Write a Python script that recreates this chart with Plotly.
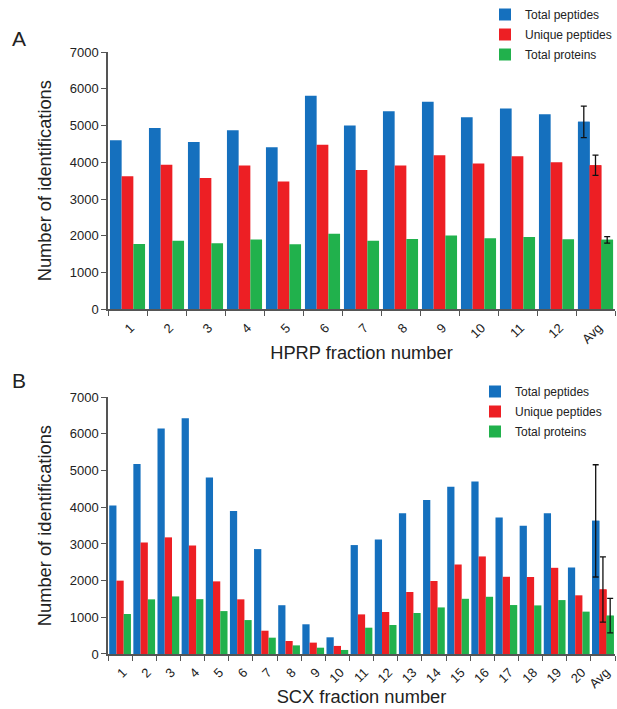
import plotly.graph_objects as go

# HPRP fractions (panel A)
hprp_fractions = [str(i) for i in range(1, 13)] + ["Avg"]
hprp_total_peptides = [4600, 4930, 4550, 4870, 4410, 5810, 5000, 5390, 5645, 5225, 5465, 5310, 5100]
hprp_unique_peptides = [3620, 3935, 3570, 3915, 3480, 4480, 3790, 3915, 4190, 3965, 4165, 4000, 3920]
hprp_total_proteins = [1780, 1865, 1800, 1900, 1770, 2055, 1865, 1915, 2010, 1935, 1970, 1910, 1890]
hprp_avg_sd = [430, 275, 90]  # total peptides, unique peptides, total proteins

# SCX fractions (panel B)
scx_fractions = [str(i) for i in range(1, 21)] + ["Avg"]
scx_total_peptides = [4050, 5180, 6150, 6430, 4810, 3900, 2860, 1330, 810, 455,
                      2970, 3120, 3840, 4200, 4560, 4700, 3720, 3500, 3840, 2360, 3630]
scx_unique_peptides = [2000, 3040, 3180, 2960, 1980, 1490, 635, 355, 310, 220,
                       1080, 1145, 1690, 1990, 2440, 2660, 2105, 2100, 2350, 1600, 1760]
scx_total_proteins = [1090, 1490, 1570, 1495, 1170, 925, 445, 235, 172, 110,
                      717, 790, 1117, 1270, 1505, 1560, 1335, 1325, 1470, 1155, 1045]
scx_avg_sd = [1530, 890, 470]

series_names = ["Total peptides", "Unique peptides", "Total proteins"]
series_colors = ["#1570BE", "#ED1F24", "#21B14C"]

FONT = "Liberation Sans, Arial, sans-serif"
TEXT = "#222222"
AXIS = "#555555"

fig = go.Figure()

panels = [
    ("a", "x", "y", "legend", hprp_fractions,
     [hprp_total_peptides, hprp_unique_peptides, hprp_total_proteins], hprp_avg_sd),
    ("b", "x2", "y2", "legend2", scx_fractions,
     [scx_total_peptides, scx_unique_peptides, scx_total_proteins], scx_avg_sd),
]

for tag, xa, ya, leg, cats, values, sds in panels:
    for k, (name, color, vals, sd) in enumerate(zip(series_names, series_colors, values, sds)):
        group = f"{tag}{k}"
        # all fractions plus the average
        fig.add_trace(go.Bar(
            x=cats, y=vals, name=name, xaxis=xa, yaxis=ya, legend=leg,
            legendgroup=group, offsetgroup=group,
            marker=dict(color=color, line=dict(width=0)),
        ))
        # standard deviation on the average bar only
        fig.add_trace(go.Bar(
            x=cats[-1:], y=vals[-1:], name=name, xaxis=xa, yaxis=ya,
            legendgroup=group, offsetgroup=group, showlegend=False,
            hoverinfo="skip", marker=dict(color=color, line=dict(width=0)),
            error_y=dict(type="data", array=[sd], color="#111111",
                         thickness=1.3, width=3),
        ))

axis_common = dict(
    showline=True, linecolor=AXIS, linewidth=1.5,
    ticks="outside", tickcolor=AXIS, ticklen=5, tickwidth=1.3,
    showgrid=False, zeroline=False,
    tickfont=dict(family=FONT, size=13, color=TEXT),
)
xcat = dict(type="category", tickson="boundaries", tickangle=-45,
            ticklabelshift=3, ticklabelstandoff=4)
title_font = dict(family=FONT, size=18.3, color=TEXT)
legend_common = dict(xref="container", yref="container", xanchor="left",
                     yanchor="top", bgcolor="rgba(0,0,0,0)",
                     font=dict(family=FONT, size=12, color=TEXT),
                     itemwidth=30, traceorder="grouped", tracegroupgap=1)

fig.update_layout(
    width=617, height=709,
    margin=dict(l=108, r=2, t=52, b=55, autoexpand=False),
    paper_bgcolor="white", plot_bgcolor="white",
    barmode="group",
    bargap=0.1, bargroupgap=0,
    font=dict(family=FONT, color=TEXT),
    xaxis=dict(**axis_common, **xcat, domain=[0, 1], anchor="y",
               title=dict(text="HPRP fraction number", font=title_font, standoff=1)),
    yaxis=dict(**axis_common, domain=[0.5725, 1.0], anchor="x",
               range=[0, 7000], dtick=1000,
               title=dict(text="Number of identifications", font=title_font, standoff=13)),
    xaxis2=dict(**axis_common, **xcat, domain=[0, 1], anchor="y2",
                title=dict(text="SCX fraction number", font=title_font, standoff=0)),
    yaxis2=dict(**axis_common, domain=[0, 0.4265], anchor="x2",
                range=[0, 7000], dtick=1000,
                title=dict(text="Number of identifications", font=title_font, standoff=13)),
    legend=dict(**legend_common, x=485 / 617, y=1 - 0 / 709),
    legend2=dict(**legend_common, x=475 / 617, y=1 - 377 / 709),
    annotations=[
        dict(text="A", xref="paper", yref="paper", x=-0.193, y=1.023,
             xanchor="left", yanchor="middle", showarrow=False,
             font=dict(family=FONT, size=21, color=TEXT)),
        dict(text="B", xref="paper", yref="paper", x=-0.193, y=0.4535,
             xanchor="left", yanchor="middle", showarrow=False,
             font=dict(family=FONT, size=21, color=TEXT)),
    ],
)

fig.write_html("out.html")
